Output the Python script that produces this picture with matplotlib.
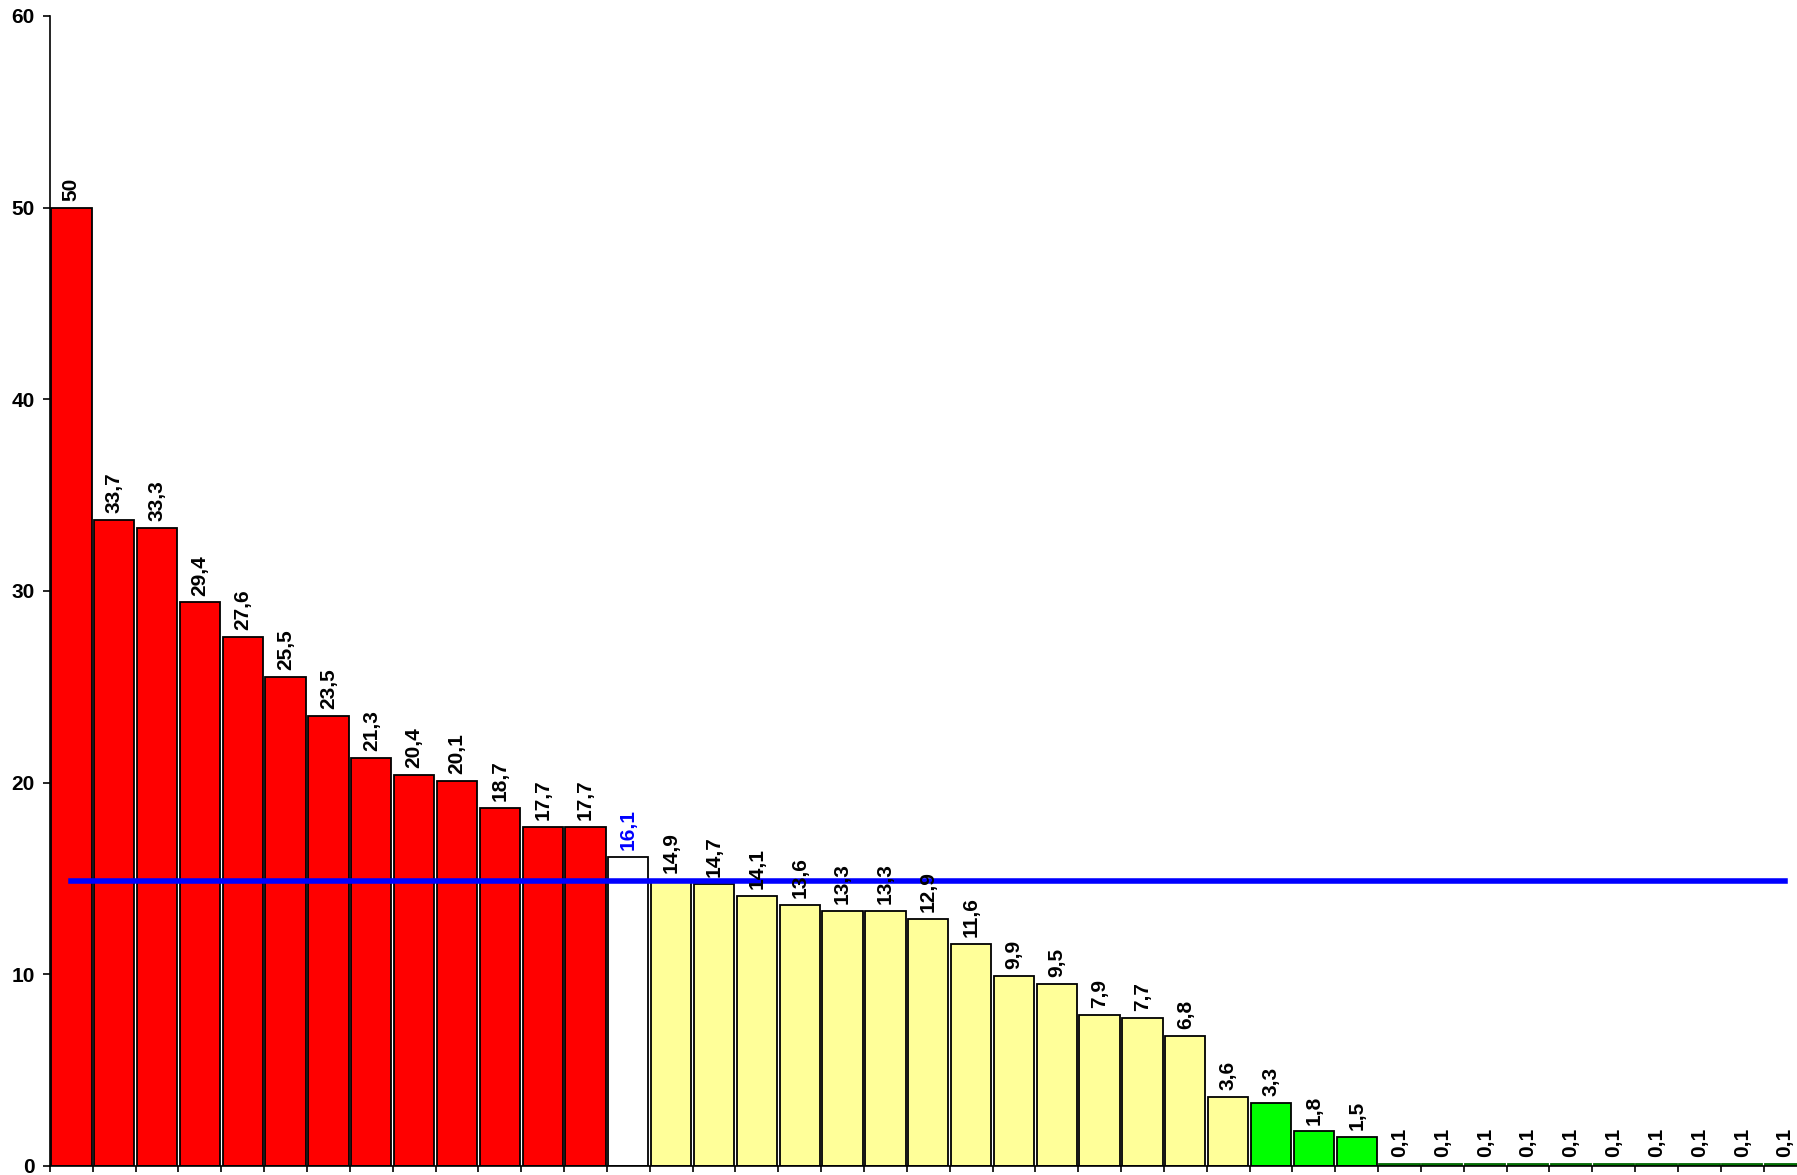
import matplotlib
matplotlib.use("Agg")
import matplotlib.pyplot as plt

values = [50, 33.7, 33.3, 29.4, 27.6, 25.5, 23.5, 21.3, 20.4, 20.1, 18.7, 17.7, 17.7,
          16.1,
          14.9, 14.7, 14.1, 13.6, 13.3, 13.3, 12.9, 11.6, 9.9, 9.5, 7.9, 7.7, 6.8, 3.6,
          3.3, 1.8, 1.5,
          0.1, 0.1, 0.1, 0.1, 0.1, 0.1, 0.1, 0.1, 0.1, 0.1]
groups = ["red"] * 13 + ["white"] + ["yellow"] * 14 + ["green"] * 13
average = 14.85
yticks = [0, 10, 20, 30, 40, 50, 60]

color_map = {"red": "#FF0000", "white": "#FFFFFF", "yellow": "#FFFF99", "green": "#00FF00"}
label_color = {"red": "black", "white": "#0000FF", "yellow": "black", "green": "black"}

plt.rcParams['font.family'] = ['Liberation Sans', 'DejaVu Sans']

fig = plt.figure(figsize=(17.97, 11.75), dpi=100)
ax = fig.add_axes([0.0278, 0.0077, 0.9775, 0.9787])

x = list(range(len(values)))
colors = [color_map[g] for g in groups]
edges = ["#006400" if v < 0.5 else "black" for v in values]
ax.bar(x, values, width=0.94, color=colors, edgecolor=edges, linewidth=1.3, zorder=2)

ax.plot([x[0], x[-1]], [average, average], color="#0000FF", linewidth=4, zorder=3)

for xi, v, g in zip(x, values, groups):
    txt = ("%g" % v).replace(".", ",")
    ax.annotate(txt, (xi, v), xytext=(0, 5), textcoords="offset points",
                rotation=90, ha="center", va="bottom", fontsize=15,
                fontweight="bold", color=label_color[g], zorder=4)

ax.set_xlim(-0.5, len(values) - 0.5)
ax.set_ylim(0, 60)
ax.set_yticks(yticks)
ax.set_yticklabels([str(t) for t in yticks], fontsize=15, fontweight="bold")
ax.set_xticks([i - 0.5 for i in range(len(values) + 1)])
ax.set_xticklabels([])
ax.tick_params(axis="y", direction="out", length=5, width=1.2, pad=6)
ax.tick_params(axis="x", direction="out", length=4.5, width=1.2)
for s in ["top", "right"]:
    ax.spines[s].set_visible(False)
for s in ["left", "bottom"]:
    ax.spines[s].set_linewidth(1.2)

fig.savefig("out.png", dpi=100)
